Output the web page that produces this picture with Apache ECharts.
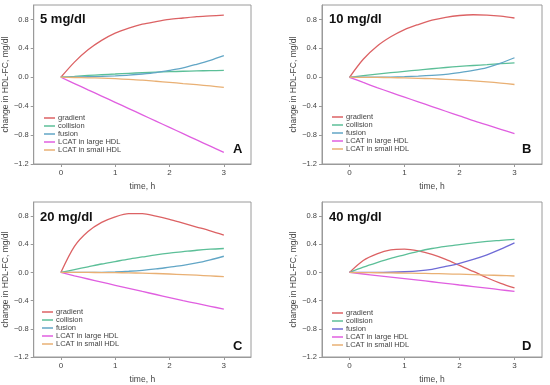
<!DOCTYPE html>
<html><head><meta charset="utf-8">
<script src="https://cdn.jsdelivr.net/npm/echarts@6/dist/echarts.min.js"></script>
<style>html,body{margin:0;padding:0;background:#fff}#c{width:550px;height:385px}</style>
</head><body><div id="c"></div>
<script>
const times = [0, 0.25, 0.5, 0.75, 1, 1.25, 1.5, 1.75, 2, 2.25, 2.5, 2.75, 3];
const seriesNames = ['gradient', 'collision', 'fusion', 'LCAT in large HDL', 'LCAT in small HDL'];
const panelTitles = ['5 mg/dl', '10 mg/dl', '20 mg/dl', '40 mg/dl'];
const panelLetters = ['A', 'B', 'C', 'D'];
const xTicks = [0, 1, 2, 3];
const yTicks = [-1.2, -0.8, -0.4, 0, 0.4, 0.8];

// Panel A (5 mg/dl)
const gradientA  = [0, 0.21, 0.38, 0.51, 0.61, 0.68, 0.735, 0.77, 0.80, 0.82, 0.84, 0.85, 0.86];
const collisionA = [0, 0.012, 0.025, 0.035, 0.045, 0.055, 0.063, 0.07, 0.077, 0.083, 0.088, 0.092, 0.095];
const fusionA    = [0, 0.003, 0.007, 0.012, 0.02, 0.03, 0.045, 0.065, 0.095, 0.13, 0.18, 0.235, 0.30];
const lcatLargeA = [0, -0.087, -0.174, -0.26, -0.347, -0.433, -0.52, -0.607, -0.693, -0.78, -0.867, -0.953, -1.04];
const lcatSmallA = [0, -0.003, -0.007, -0.012, -0.02, -0.03, -0.04, -0.055, -0.07, -0.087, -0.103, -0.12, -0.14];
// Panel B (10 mg/dl)
const gradientB  = [0, 0.25, 0.43, 0.56, 0.66, 0.73, 0.79, 0.83, 0.855, 0.865, 0.86, 0.845, 0.82];
const collisionB = [0, 0.022, 0.043, 0.063, 0.082, 0.10, 0.118, 0.135, 0.15, 0.163, 0.175, 0.188, 0.20];
const fusionB    = [0, 0, 0.001, 0.003, 0.008, 0.015, 0.025, 0.04, 0.065, 0.095, 0.135, 0.195, 0.27];
const lcatLargeB = [0, -0.072, -0.142, -0.21, -0.275, -0.34, -0.405, -0.47, -0.535, -0.60, -0.66, -0.72, -0.78];
const lcatSmallB = [0, -0.001, -0.002, -0.005, -0.009, -0.014, -0.02, -0.028, -0.038, -0.05, -0.064, -0.08, -0.10];
// Panel C (20 mg/dl)
const gradientC  = [0, 0.37, 0.58, 0.71, 0.79, 0.835, 0.835, 0.80, 0.755, 0.70, 0.645, 0.59, 0.53];
const collisionC = [0, 0.04, 0.08, 0.12, 0.155, 0.19, 0.22, 0.25, 0.275, 0.295, 0.315, 0.33, 0.34];
const fusionC    = [0, 0, 0, 0.002, 0.008, 0.017, 0.03, 0.05, 0.075, 0.10, 0.135, 0.18, 0.23];
const lcatLargeC = [0, -0.047, -0.093, -0.138, -0.182, -0.226, -0.27, -0.313, -0.356, -0.40, -0.44, -0.48, -0.52];
const lcatSmallC = [0, 0, 0, -0.001, -0.003, -0.006, -0.01, -0.015, -0.022, -0.03, -0.039, -0.049, -0.06];
// Panel D (40 mg/dl)
const gradientD  = [0, 0.17, 0.265, 0.32, 0.33, 0.305, 0.255, 0.185, 0.10, 0.015, -0.075, -0.155, -0.22];
const collisionD = [0, 0.075, 0.14, 0.20, 0.25, 0.30, 0.34, 0.37, 0.395, 0.42, 0.44, 0.455, 0.47];
const fusionD    = [0, 0, 0, 0.003, 0.01, 0.022, 0.045, 0.085, 0.13, 0.185, 0.25, 0.33, 0.42];
const lcatLargeD = [0, -0.022, -0.044, -0.066, -0.088, -0.11, -0.132, -0.155, -0.178, -0.20, -0.223, -0.246, -0.27];
const lcatSmallD = [0, -0.002, -0.004, -0.006, -0.009, -0.012, -0.016, -0.02, -0.025, -0.031, -0.037, -0.043, -0.05];

const panels = [
  [gradientA, collisionA, fusionA, lcatLargeA, lcatSmallA],
  [gradientB, collisionB, fusionB, lcatLargeB, lcatSmallB],
  [gradientC, collisionC, fusionC, lcatLargeC, lcatSmallC],
  [gradientD, collisionD, fusionD, lcatLargeD, lcatSmallD]
];

const baseColors = ['#dc6264', '#5cbf98', '#62a6c6', '#e05fe0', '#e9b074'];
const fusionColorD = '#6f6bd6';

const grids = [
  {left: 33, top: 5, width: 218, height: 159},
  {left: 322, top: 5, width: 220, height: 159},
  {left: 33, top: 202, width: 218, height: 158},
  {left: 322, top: 202, width: 220, height: 158}
];
const legendPos = [
  {left: 44, top: 114},
  {left: 332, top: 113},
  {left: 42, top: 308},
  {left: 332, top: 309}
];
const titlePos = [
  {left: 40, top: 13},
  {left: 329, top: 13},
  {left: 40, top: 211},
  {left: 329, top: 211}
];
const letterPos = [
  {left: 233, top: 143},
  {left: 522, top: 143},
  {left: 233, top: 340},
  {left: 522, top: 340}
];

const fmtY = v => { const s = (Math.round(v * 10) / 10).toFixed(1); return s.replace('-', '\u2212'); };
const colorOf = (i, k) => (i === 3 && k === 2) ? fusionColorD : baseColors[k];

const option = {
  animation: false,
  backgroundColor: '#fff',
  grid: grids.map(g => Object.assign({show: true, borderColor: '#9a9a9a', borderWidth: 1, containLabel: false}, g)),
  xAxis: grids.map((g, i) => ({
    type: 'value', gridIndex: i, min: -0.5, max: 3.5,
    name: 'time, h', nameLocation: 'middle', nameGap: 18,
    nameTextStyle: {fontSize: 8.5, color: '#444', fontFamily: 'Liberation Sans'},
    axisLine: {show: true, onZero: false, lineStyle: {color: '#9a9a9a'}},
    axisTick: {show: true, length: 3, customValues: xTicks, lineStyle: {color: '#9a9a9a'}},
    axisLabel: {customValues: xTicks, fontSize: 8, color: '#444', margin: 5, fontFamily: 'Liberation Sans'},
    splitLine: {show: false}
  })),
  yAxis: grids.map((g, i) => ({
    type: 'value', gridIndex: i, min: -1.2, max: 1.0,
    name: 'change in HDL-FC, mg/dl', nameLocation: 'middle', nameGap: 21,
    nameTextStyle: {fontSize: 8.5, color: '#444', fontFamily: 'Liberation Sans'},
    axisLine: {show: true, onZero: false, lineStyle: {color: '#9a9a9a'}},
    axisTick: {show: true, length: 3, customValues: yTicks, lineStyle: {color: '#9a9a9a'}},
    axisLabel: {customValues: yTicks, formatter: fmtY, fontSize: 7.5, color: '#444', margin: 5, fontFamily: 'Liberation Sans'},
    splitLine: {show: false}
  })),
  title: [].concat(
    panelTitles.map((t, i) => ({text: t, left: titlePos[i].left, top: titlePos[i].top, padding: 0,
      textStyle: {fontSize: 13, fontWeight: 'bold', color: '#111', fontFamily: 'Liberation Sans'}})),
    panelLetters.map((t, i) => ({text: t, left: letterPos[i].left, top: letterPos[i].top, padding: 0,
      textStyle: {fontSize: 13, fontWeight: 'bold', color: '#111', fontFamily: 'Liberation Sans'}}))
  ),
  legend: legendPos.map((p, i) => ({
    orient: 'vertical', left: p.left, top: p.top, padding: 0, itemGap: 0,
    itemWidth: 11, itemHeight: 1.5, icon: 'rect', selectedMode: false,
    textStyle: {fontSize: 7.5, color: '#444', lineHeight: 7.7, padding: [0, 0, 0, -2], fontFamily: 'Liberation Sans'},
    data: seriesNames.map((n, k) => ({name: n, itemStyle: {color: colorOf(i, k)}}))
  })),
  series: []
};

panels.forEach((vals, i) => {
  vals.forEach((arr, k) => {
    option.series.push({
      type: 'line', name: seriesNames[k], xAxisIndex: i, yAxisIndex: i,
      data: times.map((t, j) => [t, arr[j]]),
      smooth: 0.3, showSymbol: false, symbol: 'none',
      lineStyle: {width: 1.3, color: colorOf(i, k)},
      itemStyle: {color: colorOf(i, k)}
    });
  });
});

const chart = echarts.init(document.getElementById('c'), null, {renderer: 'canvas'});
chart.setOption(option);
</script>
</body></html>
